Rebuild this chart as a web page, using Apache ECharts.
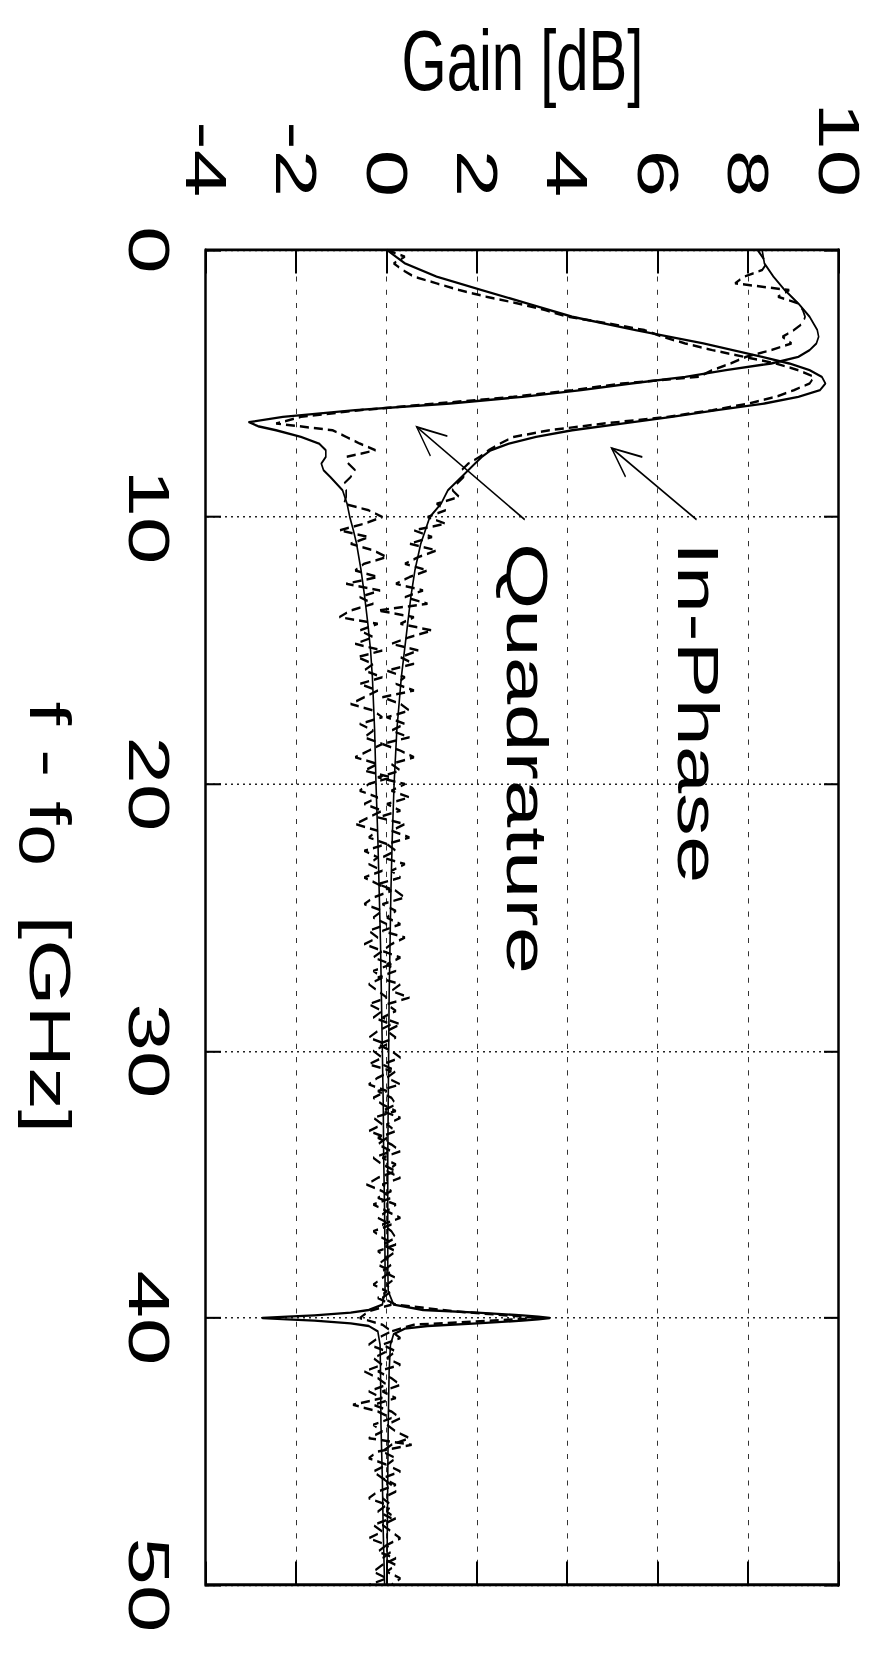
<!DOCTYPE html>
<html>
<head>
<meta charset="utf-8">
<script src="https://cdn.jsdelivr.net/npm/echarts/dist/echarts.min.js"></script>
<style>
html, body { margin: 0; padding: 0; background: #fff; width: 870px; height: 1654px; overflow: hidden; }
#chart { position: absolute; left: 0; top: 0; transform-origin: 0 0; }
</style>
</head>
<body>
<div id="chart"></div>
<script>
// ---------------- data ----------------
const freqTicks = [0, 10, 20, 30, 40, 50];
const gainTicks = [-4, -2, 0, 2, 4, 6, 8, 10];

// theory curves: [f - f0 (GHz), gain (dB)]
const inPhaseTheory = [
  [0, 0.0], [0.5, 0.4], [1, 1.1], [1.5, 2.1], [2, 3.1], [2.5, 4.1], [3, 5.5], [3.5, 7.0],
  [4, 8.3], [4.25, 8.9], [4.5, 9.35], [4.75, 9.62], [5, 9.7], [5.25, 9.58], [5.5, 9.1],
  [5.75, 8.35], [6, 7.3], [6.25, 6.3], [6.5, 5.2], [6.75, 4.1], [7, 3.3], [7.25, 2.7],
  [7.5, 2.3], [7.75, 2.1], [8, 1.95], [8.5, 1.65], [9, 1.35], [9.5, 1.2], [10, 0.95],
  [11, 0.75], [12, 0.62], [13, 0.53], [14, 0.46], [15, 0.39], [16, 0.32], [18, 0.22],
  [20, 0.16], [22, 0.12], [24, 0.09], [26, 0.07], [28, 0.05], [30, 0.04], [32, 0.03],
  [34, 0.02], [36, 0.02], [38, 0.02], [39, 0.03], [39.5, 0.15], [39.7, 0.8], [39.8, 2.0],
  [39.9, 3.0], [39.95, 3.35], [40, 3.6], [40.05, 3.35], [40.1, 3.0], [40.2, 2.0], [40.3, 0.9],
  [40.4, 0.4], [40.6, 0.15], [41, 0.08], [42, 0.05], [44, 0.03], [46, 0.02], [48, 0.01], [50, 0.0]
];
const quadratureTheory = [
  [0, 8.3], [0.5, 8.35], [1, 8.55], [1.5, 8.8], [2, 9.1], [2.5, 9.35], [3, 9.52], [3.25, 9.55],
  [3.5, 9.5], [3.75, 9.35], [4, 9.1], [4.25, 8.5], [4.5, 7.5], [4.75, 6.6], [5, 5.4],
  [5.25, 4.3], [5.5, 3.0], [5.75, 1.4], [6, -0.7], [6.25, -2.3], [6.45, -3.05], [6.6, -2.85],
  [6.75, -2.45], [7, -1.9], [7.25, -1.5], [7.5, -1.35], [7.75, -1.35], [8, -1.45], [8.25, -1.4],
  [8.5, -1.25], [9, -0.98], [9.5, -0.88], [10, -0.82], [10.5, -0.74], [11, -0.67], [12, -0.57],
  [13, -0.49], [14, -0.42], [15, -0.36], [16, -0.32], [18, -0.27], [20, -0.24], [22, -0.2],
  [24, -0.17], [26, -0.14], [28, -0.12], [30, -0.1], [32, -0.08], [34, -0.07], [36, -0.05],
  [38, -0.04], [39, -0.04], [39.5, -0.1], [39.7, -0.4], [39.8, -0.8], [39.9, -1.6], [39.95, -2.2],
  [40, -2.75], [40.05, -2.2], [40.1, -1.6], [40.2, -0.8], [40.3, -0.4], [40.5, -0.2], [41, -0.15],
  [42, -0.14], [44, -0.13], [46, -0.1], [48, -0.08], [50, -0.05]
];

// measured curves: gain (dB) sampled every 0.25 GHz from 0 to 50
const measuredStartFreq = 0;
const measuredFreqStep = 0.25;
const inPhaseMeasured = [
  0.0, 0.4, 0.15, 0.35,   0.6, 1.1, 1.6, 2.2,   2.9, 3.5, 4.0, 4.9,   5.7, 6.1, 6.6, 7.2,
  7.9, 8.6, 9.1, 9.45,    9.35, 9.0, 8.6, 8.0,  7.2, 6.2, 4.8, 3.6,   2.8, 2.5, 2.25, 2.05,
  1.8, 1.65, 1.7, 1.55,   1.45, 1.6, 1.1, 1.3,  0.9,
  1.3, 0.6, 1.0, 0.5,     1.1, 0.7, 0.4, 0.9,   0.5, 0.2, 0.8, 0.4,   0.9, -0.2, 0.6, 0.3,
  1.0, 0.5, 0.1, 0.7,     0.3, 0.6, 0.0, 0.4,   0.2, 0.6, -0.1, 0.3,  0.5, 0.0, 0.4, 0.1,
  0.5, -0.1, 0.3, 0.6,    0.1, 0.3, -0.2, 0.4,  0.1, 0.5, 0.0, 0.3,   -0.2, 0.4, 0.1, 0.5,
  0.0, 0.2, -0.1, 0.4,    0.1, 0.3, -0.2, 0.2,  0.4, -0.1, 0.2, 0.0,  0.3, -0.1, 0.4, 0.1,
  -0.1, 0.3, 0.0, 0.2,    -0.2, 0.3, 0.1, 0.5,  0.0, 0.2, -0.1, 0.3,  0.0, 0.2, -0.2, 0.1,
  0.3, -0.1, 0.2, 0.0,    0.3, -0.2, 0.1, 0.2,  -0.1, 0.3, 0.0, 0.2,  -0.2, 0.1, 0.3, -0.1,
  0.2, 0.0, 0.3, -0.1,    0.1, -0.2, 0.2, 0.0,  0.3, -0.1, 0.1, 0.2,  -0.1, 0.2, 0.0, 0.1,
  -0.1, 0.2, 0.0, 0.1,    -0.1, 0.2, 1.5, 3.4,  0.6, 0.1, 0.3, -0.1,  0.2, 0.0, 0.3, -0.2,
  0.1, 0.3, -0.1, 0.2,    -0.3, 0.1, 0.3, 0.0,  0.2, 0.5, 0.1, -0.1,  0.2, 0.0, 0.3, -0.1,
  0.1, 0.2, -0.1, 0.1,    0.0, 0.2, -0.1, 0.1,  0.3, 0.0, 0.1, -0.1,  0.2, 0.0, 0.3, 0.1
];
const quadratureMeasured = [
  8.2, 8.3, 8.4, 8.3,     7.9, 7.7, 8.9, 8.65,  9.1, 9.2, 9.25, 9.2,  9.0, 8.75, 8.95, 8.5,
  7.95, 7.6, 7.2, 6.9,    5.2, 4.1, 2.8, 1.1,   -0.6, -1.9, -2.45, -1.2, -0.9, -0.6, -0.25, -0.9,
  -0.85, -0.7, -0.8, -0.95, -0.9, -0.9, -0.95, -0.4, -0.1,
  -0.5, -1.05, -0.4, -0.8,  -0.3, 0.0, -0.5, -0.7,  -0.2, -0.9, -0.15, -0.6,  -0.3, -0.8, -1.05, -0.2,
  -0.6, -0.3, -0.7, -0.1,   -0.65, -0.3, -0.5, -0.1, -0.6, -0.2, -0.5, -0.8,  -0.3, -0.1, -0.6, -0.3,
  -0.5, -0.1, -0.4, -0.7,   -0.2, -0.5, 0.1, -0.4,  -0.6, -0.2, -0.5, -0.1,  -0.4, -0.7, -0.2, -0.4,
  0.0, -0.5, -0.2, -0.4,    -0.1, -0.5, -0.2, 0.1,  -0.3, -0.5, -0.1, -0.3,  0.0, -0.4, -0.2, -0.5,
  -0.1, -0.3, 0.1, -0.3,    -0.1, -0.4, -0.2, 0.0,  -0.4, -0.1, -0.3, 0.1,   -0.2, -0.4, 0.0, -0.3,
  -0.1, -0.4, 0.1, -0.2,    -0.4, 0.0, -0.3, -0.1,  0.2, -0.3, -0.1, -0.4,   0.0, -0.2, 0.1, -0.3,
  -0.1, 0.2, -0.2, -0.45,   -0.1, 0.1, -0.3, 0.0,   -0.2, 0.1, -0.3, -0.1,   0.2, -0.2, 0.0, -0.2,
  0.1, -0.1, -0.3, 0.0,     -0.2, 0.1, -0.4, -0.6,  -0.1, 0.1, -0.2, -0.4,   0.0, -0.3, -0.1, -0.5,
  -0.2, 0.0, -0.4, -0.1,    -0.75, -0.2, 0.1, -0.3, -0.1, -0.4, 0.55, -0.2,  -0.4, 0.0, -0.3, -0.1,
  0.2, -0.2, -0.4, 0.0,     -0.2, 0.1, -0.3, -0.1,  -0.4, 0.0, -0.2, 0.2,    -0.1, -0.3, 0.0, -0.4
];

// annotations (data coordinates: [f - f0, gain])
const annotationTexts = ['In-Phase', 'Quadrature'];
const annotationAnchors = [[10.94, 6.89], [10.97, 3.11]];
// arrows: [tail f, tail gain, head f, head gain]
const arrows = [[10.1, 6.85, 7.42, 4.97], [10.1, 3.05, 6.63, 0.66]];

// ---------------- layout ----------------
const PAGE_W = 870, PAGE_H = 1654;
const K = 1.47;                 // horizontal stretch of the original figure
const CW = PAGE_H / K, CH = PAGE_W;
const FONT = "'Liberation Sans', Arial, Helvetica, sans-serif";

const el = document.getElementById('chart');
el.style.width = CW + 'px';
el.style.height = CH + 'px';
el.style.transform = 'translate(' + PAGE_W + 'px,0) rotate(90deg) scale(' + K + ',1)';

const chart = echarts.init(el, null, { renderer: 'svg', width: CW, height: CH });

const toPairs = (arr) => arr.map((g, i) => [measuredStartFreq + i * measuredFreqStep, g]);

const txt = { fontFamily: FONT, color: '#000' };

const option = {
  animation: false,
  backgroundColor: '#fff',
  grid: { left: 250 / K, right: 69 / K, top: 31, bottom: 206, containLabel: false, outerBoundsMode: 'none' },
  xAxis: [
    {
      type: 'value', position: 'bottom', min: 0, max: 50, interval: 10,
      axisLine: { show: true, onZero: false, lineStyle: { color: '#000', width: 2.5 } },
      axisTick: { show: true, inside: true, length: 15, lineStyle: { color: '#000', width: 1.4 } },
      axisLabel: Object.assign({ fontSize: 58, margin: 28, showMinLabel: true, showMaxLabel: true,
        formatter: (v) => freqTicks.indexOf(v) >= 0 ? String(v) : '' }, txt),
      splitLine: { show: true, lineStyle: { color: '#222', width: 1, type: [2, 4] } },
      name: '{a|f - f}{s|0}{g| }{a|[GHz]}',
      nameLocation: 'middle', nameGap: 127,
      nameTextStyle: Object.assign({ fontSize: 58, rich: {
        a: Object.assign({ fontSize: 58, lineHeight: 60, verticalAlign: 'top' }, txt),
        s: Object.assign({ fontSize: 50, lineHeight: 44, padding: [18, 0, 0, 0], verticalAlign: 'top' }, txt),
        g: Object.assign({ fontSize: 58, lineHeight: 60, width: 34, verticalAlign: 'top' }, txt)
      } }, txt)
    },
    {
      type: 'value', position: 'top', min: 0, max: 50, interval: 10,
      axisLine: { show: true, onZero: false, lineStyle: { color: '#000', width: 2.5 } },
      axisTick: { show: true, inside: true, length: 15, lineStyle: { color: '#000', width: 1.4 } },
      axisLabel: { show: false }, splitLine: { show: false }
    }
  ],
  yAxis: [
    {
      type: 'value', position: 'left', min: -4, max: 10, interval: 2,
      axisLine: { show: true, onZero: false, lineStyle: { color: '#000', width: 2 } },
      axisTick: { show: true, inside: true, length: 16, lineStyle: { color: '#000', width: 2 } },
      axisLabel: Object.assign({ fontSize: 58, margin: 36,
        formatter: (v) => gainTicks.indexOf(v) >= 0 ? String(v) : '' }, txt),
      splitLine: { show: true, lineStyle: { color: '#333', width: 1, type: [3.5, 5.5] } },
      name: 'Gain [dB]', nameLocation: 'middle', nameGap: 99, nameMoveOverlap: false,
      nameTextStyle: Object.assign({ fontSize: 58, lineHeight: 60 }, txt)
    },
    {
      type: 'value', position: 'right', min: -4, max: 10, interval: 2,
      axisLine: { show: true, onZero: false, lineStyle: { color: '#000', width: 2 } },
      axisTick: { show: true, inside: true, length: 16, lineStyle: { color: '#000', width: 2 } },
      axisLabel: { show: false }, splitLine: { show: false }
    }
  ],
  series: [
    {
      name: 'In-Phase theory', type: 'line', data: inPhaseTheory, showSymbol: false, symbol: 'none',
      lineStyle: { color: '#000', width: 1.6, join: 'round' }, z: 3
    },
    {
      name: 'Quadrature theory', type: 'line', data: quadratureTheory, showSymbol: false, symbol: 'none',
      lineStyle: { color: '#000', width: 1.6, join: 'round' }, z: 3
    },
    {
      name: 'In-Phase measured', type: 'line', data: toPairs(inPhaseMeasured), showSymbol: false, symbol: 'none',
      lineStyle: { color: '#000', width: 1.7, type: [9, 5] }, z: 2
    },
    {
      name: 'Quadrature measured', type: 'line', data: toPairs(quadratureMeasured), showSymbol: false, symbol: 'none',
      lineStyle: { color: '#000', width: 1.7, type: [9, 5] }, z: 2
    },
    {
      name: 'labels', type: 'scatter', symbolSize: 0.01, itemStyle: { color: '#000', opacity: 1 },
      data: annotationAnchors.map((p, i) => ({ value: p, name: annotationTexts[i] })),
      label: Object.assign({ show: true, position: 'right', distance: 0, fontSize: 58, formatter: '{b}',
        opacity: 1, textBorderWidth: 0 }, txt),
      silent: true, z: 5
    },
    {
      name: 'arrows', type: 'custom', data: arrows, encode: { x: [0, 2], y: [1, 3] }, silent: true, z: 5,
      renderItem: function (params, api) {
        const t = api.coord([api.value(0), api.value(1)]);
        const h = api.coord([api.value(2), api.value(3)]);
        const tx = t[0] * K, ty = t[1], hx = h[0] * K, hy = h[1];
        const ang = Math.atan2(ty - hy, tx - hx);
        const L = 32, a = 24 * Math.PI / 180;
        const b1 = [(hx + L * Math.cos(ang + a)) / K, hy + L * Math.sin(ang + a)];
        const b2 = [(hx + L * Math.cos(ang - a)) / K, hy + L * Math.sin(ang - a)];
        return {
          type: 'group', children: [
            { type: 'line', shape: { x1: t[0], y1: t[1], x2: h[0], y2: h[1] }, style: { stroke: '#000', lineWidth: 1.3 } },
            { type: 'polyline', shape: { points: [b1, h, b2] }, style: { stroke: '#000', fill: null, lineWidth: 1.3 } }
          ]
        };
      }
    }
  ]
};
chart.setOption(option);
</script>
</body>
</html>
